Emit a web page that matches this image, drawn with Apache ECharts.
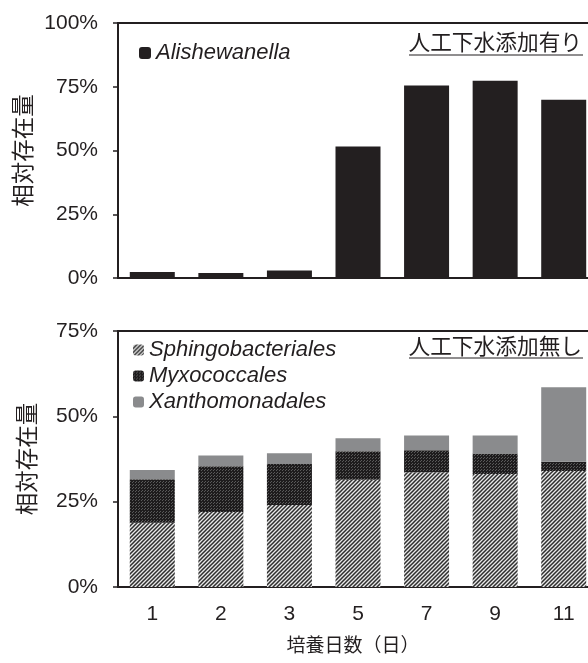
<!DOCTYPE html>
<html>
<head>
<meta charset="utf-8">
<script src="https://cdn.jsdelivr.net/npm/echarts@6/dist/echarts.min.js"></script>
<style>
  html, body { margin: 0; padding: 0; background: #fff; }
  #main { width: 588px; height: 663px; }
</style>
</head>
<body>
<div id="main"></div>
<script>
"use strict"
// data (percent)
var days = ['1', '2', '3', '5', '7', '9', '11'];
var alishewanella = [2.4, 2.0, 2.9, 51.6, 75.5, 77.4, 69.9];
var sphingobacteriales = [18.8, 22.0, 24.0, 31.4, 33.6, 33.1, 34.0];
var myxococcales = [12.8, 13.4, 12.0, 8.4, 6.5, 6.0, 2.7];
var xanthomonadales = [2.7, 3.1, 3.2, 3.8, 4.3, 5.3, 21.8];
var topTicks = [0, 25, 50, 75, 100];
var bottomTicks = [0, 25, 50, 75];

var INK = '#231f20';
var FONT = '"Liberation Sans", Arial, "Noto Sans CJK JP", sans-serif';
var JFONT = '"Noto Sans CJK JP", sans-serif';

// fill patterns
function hatchPattern() {
	var c = document.createElement('canvas');
	c.width = 4; c.height = 4;
	var ctx = c.getContext('2d');
	ctx.fillStyle = '#e8e8e8';
	ctx.fillRect(0, 0, 4, 4);
	ctx.strokeStyle = '#2e2e2e';
	ctx.lineWidth = 1.5;
	ctx.beginPath();
	ctx.moveTo(-1, 5); ctx.lineTo(5, -1);
	ctx.moveTo(-3, 3); ctx.lineTo(3, -3);
	ctx.moveTo(1, 7); ctx.lineTo(7, 1);
	ctx.stroke();
	return { image: c, repeat: 'repeat' };
}
function dotPattern() {
	var c = document.createElement('canvas');
	c.width = 3; c.height = 3;
	var ctx = c.getContext('2d');
	ctx.fillStyle = '#1e1c1d';
	ctx.fillRect(0, 0, 3, 3);
	ctx.fillStyle = '#5a5a5a';
	ctx.fillRect(1, 1, 1, 1);
	ctx.fillRect(0, 2, 1, 1);
	return { image: c, repeat: 'repeat' };
}

var myChart = echarts.init(document.getElementById('main'));

function yAxisFor(gridIndex, ticks) {
	return {
		type: 'value',
		gridIndex: gridIndex,
		min: ticks[0],
		max: ticks[ticks.length - 1],
		interval: 25,
		name: '相対存在量',
		nameLocation: 'middle',
		nameRotate: 90,
		nameGap: 80,
		nameTextStyle: { fontFamily: JFONT, fontSize: 22.5, color: INK },
		axisLine: { show: true, lineStyle: { color: INK, width: 2 } },
		axisTick: { show: true, length: 5, lineStyle: { color: INK, width: 1.5 } },
		axisLabel: {
			margin: 20, fontSize: 21, color: INK, fontFamily: FONT,
			formatter: '{value}%'
		},
		splitLine: { show: false }
	};
}

function xAxisFor(gridIndex, showLabels) {
	return {
		type: 'category',
		gridIndex: gridIndex,
		data: days,
		axisLine: { show: true, lineStyle: { color: INK, width: 2 } },
		axisTick: { show: false },
		axisLabel: { show: showLabels, margin: 17, fontSize: 21, color: INK, fontFamily: FONT },
		splitLine: { show: false }
	};
}

var option = {
	animation: false,
	backgroundColor: '#fff',
	grid: [
		{ left: 118, top: 23, width: 480, height: 255, outerBoundsMode: 'none', show: true, borderColor: INK, borderWidth: 2 },
		{ left: 118, top: 331, width: 480, height: 256, outerBoundsMode: 'none', show: true, borderColor: INK, borderWidth: 2 }
	],
	xAxis: [xAxisFor(0, false), xAxisFor(1, true)],
	yAxis: [yAxisFor(0, topTicks), yAxisFor(1, bottomTicks)],
	legend: [
		{
			data: ['Alishewanella'],
			left: 139, top: 42, padding: 0,
			itemWidth: 12, itemHeight: 12, itemGap: 5,
			textStyle: { fontSize: 22, fontStyle: 'italic', color: INK, fontFamily: FONT }
		},
		{
			data: ['Sphingobacteriales', 'Myxococcales', 'Xanthomonadales'],
			orient: 'vertical',
			left: 133, top: 339, padding: 0,
			itemWidth: 11, itemHeight: 11, itemGap: 4,
			textStyle: { fontSize: 22, lineHeight: 22, fontStyle: 'italic', color: INK, fontFamily: FONT }
		}
	],
	title: [
		{
			text: '培養日数（日）',
			left: 348, top: 630, textAlign: 'center',
			textStyle: { fontFamily: JFONT, fontSize: 19, fontWeight: 'normal', color: INK }
		}
	],
	graphic: [
		{ type: 'text', right: 6, top: 31, style: { text: '人工下水添加有り', fontFamily: JFONT, fontSize: 21.7, fill: INK } },
		{ type: 'line', shape: { x1: 409, y1: 55, x2: 583, y2: 55 }, style: { stroke: INK, lineWidth: 1.2 } },
		{ type: 'text', right: 6, top: 335, style: { text: '人工下水添加無し', fontFamily: JFONT, fontSize: 21.7, fill: INK } },
		{ type: 'line', shape: { x1: 409, y1: 358, x2: 583, y2: 358 }, style: { stroke: INK, lineWidth: 1.2 } }
	],
	series: [
		{
			name: 'Alishewanella', type: 'bar', xAxisIndex: 0, yAxisIndex: 0,
			barWidth: 45, data: alishewanella,
			itemStyle: { color: INK }
		},
		{
			name: 'Sphingobacteriales', type: 'bar', xAxisIndex: 1, yAxisIndex: 1, stack: 'b',
			barWidth: 45, data: sphingobacteriales,
			itemStyle: { color: hatchPattern() }
		},
		{
			name: 'Myxococcales', type: 'bar', xAxisIndex: 1, yAxisIndex: 1, stack: 'b',
			barWidth: 45, data: myxococcales,
			itemStyle: { color: dotPattern() }
		},
		{
			name: 'Xanthomonadales', type: 'bar', xAxisIndex: 1, yAxisIndex: 1, stack: 'b',
			barWidth: 45, data: xanthomonadales,
			itemStyle: { color: '#8a8b8d' }
		}
	]
};

if (option && typeof option === "object") {
	myChart.setOption(option, true);
}
</script>
</body>
</html>
